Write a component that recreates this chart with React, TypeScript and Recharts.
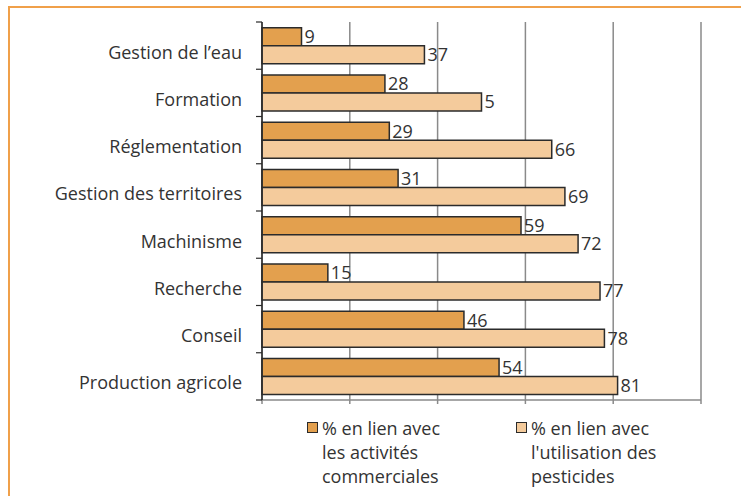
import { Bar, BarChart, CartesianGrid, LabelList, XAxis, YAxis } from "recharts";

const categories = [
  "Gestion de l’eau",
  "Formation",
  "Réglementation",
  "Gestion des territoires",
  "Machinisme",
  "Recherche",
  "Conseil",
  "Production agricole",
];
const commercialValues = [9, 28, 29, 31, 59, 15, 46, 54];
const pesticideValues = [37, 50, 66, 69, 72, 77, 78, 81];
// labels as printed on the chart (the "Formation" bar reads 5)
const pesticideLabels = ["37", "5", "66", "69", "72", "77", "78", "81"];
const xTicks = [0, 20, 40, 60, 80, 100];
const legendLines = [
  ["% en lien avec", "les activités", "commerciales"],
  ["% en lien avec", "l'utilisation des", "pesticides"],
];

const DARK = "#E3A04E";
const LIGHT = "#F4CB9C";
const EDGE = "#2b2b2b";
const GRID = "#8a8a8a";
const INK = "#333";
const FONT = "'Open Sans', Lato, sans-serif";
const FS = 18;

const data = categories.map((label, i) => ({
  label,
  commercial: commercialValues[i],
  pesticide: pesticideValues[i],
  pestLabel: pesticideLabels[i],
}));

const W = 741;
const H = 496;
const margin = { top: 22, right: 40, left: 0, bottom: 86 };
const X_AXIS_H = 10;
const PLOT_H = H - margin.top - margin.bottom - X_AXIS_H;
const BAND = PLOT_H / categories.length;
const TICK = 6;
const TICK_GAP = 14;

function CategoryTick(props: any) {
  const { x, y, payload, index } = props;
  const lx1 = x + TICK_GAP;
  const lx2 = lx1 + TICK;
  return (
    <g>
      <text
        x={x}
        y={y + 6}
        textAnchor="end"
        dominantBaseline="central"
        fontSize={FS}
        fontFamily={FONT}
        fill={INK}
      >
        {payload.value}
      </text>
      <line x1={lx1} x2={lx2} y1={y - BAND / 2} y2={y - BAND / 2} stroke={EDGE} strokeWidth={1.2} />
      {index === categories.length - 1 && (
        <line x1={lx1} x2={lx2} y1={y + BAND / 2} y2={y + BAND / 2} stroke={EDGE} strokeWidth={1.2} />
      )}
    </g>
  );
}

function LegendBox() {
  const items = [
    { color: DARK, left: 307, lines: legendLines[0] },
    { color: LIGHT, left: 516, lines: legendLines[1] },
  ];
  return (
    <>
      {items.map((it, i) => (
        <div
          key={i}
          style={{
            position: "absolute",
            top: 416,
            left: it.left,
            display: "flex",
            alignItems: "flex-start",
            fontFamily: FONT,
            fontSize: FS,
            lineHeight: "24px",
            color: INK,
          }}
        >
          <span
            style={{
              width: 11,
              height: 11,
              marginTop: 6,
              marginRight: 4,
              background: it.color,
              border: `1.5px solid ${EDGE}`,
              boxSizing: "border-box",
              flex: "none",
            }}
          />
          <div>
            {it.lines.map((l, j) => (
              <div key={j}>{l}</div>
            ))}
          </div>
        </div>
      ))}
    </>
  );
}

export default function App() {
  return (
    <div style={{ position: "absolute", left: 0, top: 0, width: W, height: H, background: "#fff", overflow: "hidden" }}>
      <div
        style={{
          position: "absolute",
          left: 8,
          top: 6,
          width: W - 8,
          height: H - 6,
          borderTop: "2px solid #F0A04A",
          borderLeft: "2px solid #F0A04A",
          boxSizing: "border-box",
        }}
      />
      <div style={{ position: "absolute", left: 0, top: 0 }}>
        <BarChart
          width={W}
          height={H}
          data={data}
          layout="vertical"
          margin={margin}
          barCategoryGap="12%"
          barGap={0}
        >
          <CartesianGrid horizontal={false} stroke={GRID} strokeWidth={1.5} />
          <XAxis
            type="number"
            domain={[0, 100]}
            ticks={xTicks}
            height={X_AXIS_H}
            tickFormatter={() => ""}
            tickSize={4}
            tickLine={{ stroke: GRID, strokeWidth: 1.5 }}
            axisLine={{ stroke: GRID, strokeWidth: 1.5 }}
          />
          <XAxis
            xAxisId="top"
            orientation="top"
            type="number"
            domain={[0, 100]}
            height={0}
            tick={false}
            tickLine={false}
            axisLine={{ stroke: GRID, strokeWidth: 1.5 }}
          />
          <YAxis
            type="category"
            dataKey="label"
            width={262}
            interval={0}
            tickSize={TICK}
            tickMargin={TICK_GAP}
            tickLine={{ stroke: "none" }}
            tick={<CategoryTick />}
            axisLine={{ stroke: EDGE, strokeWidth: 1.5 }}
          />
          <Bar dataKey="commercial" fill={DARK} stroke={EDGE} strokeWidth={1.5} isAnimationActive={false}>
            <LabelList
              dataKey="commercial"
              position="right"
              offset={3}
              style={{ fontSize: FS, fill: INK, fontFamily: FONT }}
            />
          </Bar>
          <Bar dataKey="pesticide" fill={LIGHT} stroke={EDGE} strokeWidth={1.5} isAnimationActive={false}>
            <LabelList
              dataKey="pestLabel"
              position="right"
              offset={3}
              style={{ fontSize: FS, fill: INK, fontFamily: FONT }}
            />
          </Bar>
        </BarChart>
      </div>
      <LegendBox />
    </div>
  );
}
